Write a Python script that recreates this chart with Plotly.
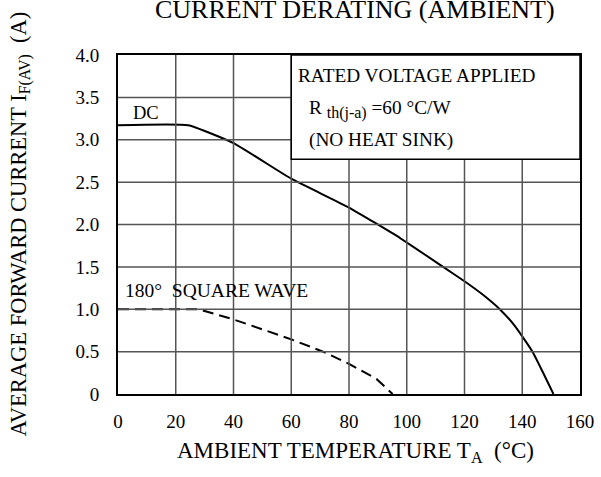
import plotly.graph_objects as go

# DC derating curve
dc_temp = [0, 24.3, 40, 60, 80, 97.7, 112.6, 120, 126.4, 132.2, 136.8, 140, 143.7, 147.1, 150.8]
dc_curr = [3.17, 3.17, 2.96, 2.54, 2.2, 1.84, 1.5, 1.33, 1.17, 1.0, 0.83, 0.68, 0.49, 0.26, 0.0]

# 180 deg square wave derating curve
sq_temp = [0, 28, 40, 60, 71, 80, 89.5, 95.1]
sq_curr = [1.0, 1.0, 0.88, 0.645, 0.5, 0.356, 0.178, 0.0]

x_ticks = [0, 20, 40, 60, 80, 100, 120, 140, 160]
y_ticks = [0, 0.5, 1.0, 1.5, 2.0, 2.5, 3.0, 3.5, 4.0]
y_tick_text = ["0", "0.5", "1.0", "1.5", "2.0", "2.5", "3.0", "3.5", "4.0"]

# note box region (data units)
box_x0, box_x1, box_y0, box_y1 = 60, 160, 2.77, 4.0

FONT = "Liberation Serif"
GRID = "#555555"

fig = go.Figure()

# grid lines (interrupted by the note box)
for xv in x_ticks[1:-1]:
    top = box_y0 if xv > box_x0 else y_ticks[-1]
    fig.add_shape(type="line", xref="x", yref="y", x0=xv, x1=xv, y0=y_ticks[0], y1=top,
                  line=dict(color=GRID, width=1.5), layer="above")
for yv in y_ticks[1:-1]:
    right = box_x0 if yv > box_y0 else x_ticks[-1]
    fig.add_shape(type="line", xref="x", yref="y", x0=x_ticks[0], x1=right, y0=yv, y1=yv,
                  line=dict(color=GRID, width=1.5), layer="above")

fig.add_shape(type="rect", xref="x", yref="y", x0=box_x0, x1=box_x1, y0=box_y0, y1=box_y1,
              fillcolor="rgba(0,0,0,0)", line=dict(color="black", width=1.5), layer="above")

fig.add_trace(go.Scatter(x=dc_temp, y=dc_curr, mode="lines",
                         line=dict(color="black", width=2, shape="spline", smoothing=0.4),
                         showlegend=False))
fig.add_trace(go.Scatter(x=sq_temp, y=sq_curr, mode="lines",
                         line=dict(color="black", width=2, dash="11px,6px"),
                         showlegend=False))

annos = [
    dict(x=61.8, y=3.76, text="RATED VOLTAGE APPLIED", size=19.3),
    dict(x=65.4, y=3.36, text="R <sub><span style='font-size:16px'>th(j-a)</span></sub> =60 °C/W", size=19.3),
    dict(x=65.4, y=3.0, text="(NO HEAT SINK)", size=19.3),
    dict(x=4.4, y=3.31, text="DC", size=18.5),
    dict(x=1.8, y=1.22, text="180°  SQUARE WAVE", size=19.5),
]
for a in annos:
    fig.add_annotation(x=a["x"], y=a["y"], xref="x", yref="y", text=a["text"],
                       showarrow=False, xanchor="left", yanchor="middle",
                       font=dict(family=FONT, size=a["size"], color="black"))

# chart title
fig.add_annotation(x=0.513, y=1.087, xref="paper", yref="paper",
                   text="CURRENT DERATING (AMBIENT)", showarrow=False,
                   xanchor="center", yanchor="bottom",
                   font=dict(family=FONT, size=26, color="black"))

# axis titles
fig.add_annotation(x=0.513, y=-0.125, xref="paper", yref="paper",
                   text="AMBIENT TEMPERATURE T<sub>A</sub>  (°C)", showarrow=False,
                   xanchor="center", yanchor="top",
                   font=dict(family=FONT, size=23, color="black"))
fig.add_annotation(x=-0.212, y=0.5, xref="paper", yref="paper",
                   text="AVERAGE FORWARD CURRENT I<sub>F(AV)</sub>  (A)", showarrow=False,
                   textangle=-90, xanchor="center", yanchor="middle",
                   font=dict(family=FONT, size=22.5, color="black"))

fig.update_layout(
    width=601, height=477,
    margin=dict(l=118, r=21, t=55, b=83),
    paper_bgcolor="white", plot_bgcolor="white",
    xaxis=dict(range=[0, 160], tickvals=x_ticks, ticktext=[str(v) for v in x_ticks],
               showgrid=False,
               showline=True, linecolor="black", linewidth=2, mirror=True,
               ticks="", ticklabelstandoff=9, zeroline=False, automargin=False,
               ticklabeloverflow="allow",
               tickfont=dict(family=FONT, size=19, color="black")),
    yaxis=dict(range=[0, 4], tickvals=y_ticks, ticktext=y_tick_text,
               showgrid=False,
               showline=True, linecolor="black", linewidth=2, mirror=True,
               ticks="", ticklabelstandoff=13, zeroline=False, automargin=False,
               ticklabeloverflow="allow",
               tickfont=dict(family=FONT, size=19, color="black")),
)

fig.write_html("out.html", config={"displayModeBar": False},
               post_script="document.body.style.margin='0';document.body.style.padding='0';")
